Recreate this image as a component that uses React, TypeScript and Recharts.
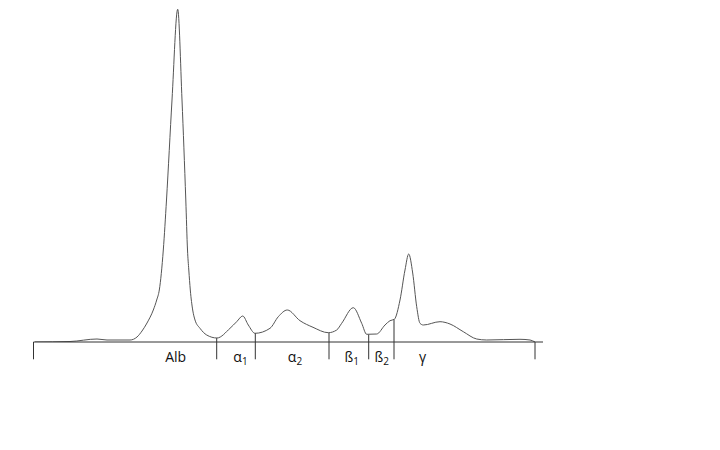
import React from 'react';
import { LineChart, Line, XAxis, YAxis, ReferenceLine } from 'recharts';

// densitometer trace, mobility (px units) vs density
const mobility = [
  0, 35, 62, 72, 95, 102, 107, 112, 118.3, 121.7, 124.3, 128.3, 131.5, 137, 142.7, 147, 150.8, 152.5, 153.8,
  155.3, 157.7, 160, 165, 171.7, 182,
  195, 201.7, 207.7, 213.3, 220, 235, 243.3, 252.3, 265, 278, 293.3, 301.7, 306.7, 318.3, 326.7, 331.7,
  341.7, 350, 355, 359.3, 365, 370, 373.7, 377.7, 381.7, 385, 388.3, 405, 415, 428.3, 441.7, 451.7, 485, 495, 500,
];
const density = [
  0, 0.5, 3, 2, 2, 5, 11, 19, 32, 42, 52, 92, 142, 242, 332.7, 242, 142, 92, 72,
  52, 32, 22, 13.7, 7, 4,
  13.7, 20.3, 26, 17, 8.7, 13.7, 25.3, 32, 21.3, 14.7, 9.3, 12, 18.7, 34.3, 18.7, 7.7,
  8, 17, 21.3, 22.7, 42, 72, 88, 69, 35.3, 18.7, 17, 20.3, 18, 10.3, 3, 2, 2.7, 2, 0,
];

// fraction boundaries (position, height of curve where the line starts)
const boundaryPos = [-1.5, 181.7, 220.3, 294, 333.7, 359, 500];
const boundaryTop = [0, 4, 9, 9.3, 7.5, 22.7, 0];

// fraction labels
const labelPos = [140.7, 205.5, 260, 316.7, 346.7, 387.7];
const labelText = ['Alb', 'α', 'α', 'ß', 'ß', 'γ'];
const labelSub = ['', '1', '2', '1', '2', ''];

const data = mobility.map((x, i) => ({ x, y: density[i] }));

const FractionTick = (props: any) => {
  const { x, y, payload } = props;
  const idx = labelPos.indexOf(payload.value);
  if (idx < 0) return null;
  return (
    <text
      x={x}
      y={y + 12}
      textAnchor="middle"
      fill="#111"
      style={{ fontFamily: '"Open Sans", sans-serif', fontSize: 14 }}
    >
      {labelText[idx]}
      {labelSub[idx] && (
        <tspan fontSize={10} dy={3}>
          {labelSub[idx]}
        </tspan>
      )}
    </text>
  );
};

export default function App() {
  return (
    <div style={{ width: 720, height: 450, background: '#fff' }}>
      <LineChart
        width={720}
        height={450}
        data={data}
        margin={{ top: 0, right: 185, left: 25.5, bottom: 0 }}
      >
        <XAxis
          dataKey="x"
          type="number"
          domain={[-1.5, 508]}
          ticks={labelPos}
          interval={0}
          tickLine={false}
          axisLine={{ stroke: '#333', strokeWidth: 1 }}
          tick={<FractionTick />}
          allowDataOverflow
          height={116}
        />
        <YAxis type="number" domain={[0, 334]} hide allowDataOverflow />
        {boundaryPos.map((bx, i) => (
          <ReferenceLine
            key={i}
            segment={[
              { x: bx, y: boundaryTop[i] },
              { x: bx, y: -17.3 },
            ]}
            stroke="#333"
            strokeWidth={1}
            ifOverflow="visible"
          />
        ))}
        <Line
          type="monotone"
          dataKey="y"
          stroke="#555"
          strokeWidth={1}
          dot={false}
          isAnimationActive={false}
        />
      </LineChart>
    </div>
  );
}
